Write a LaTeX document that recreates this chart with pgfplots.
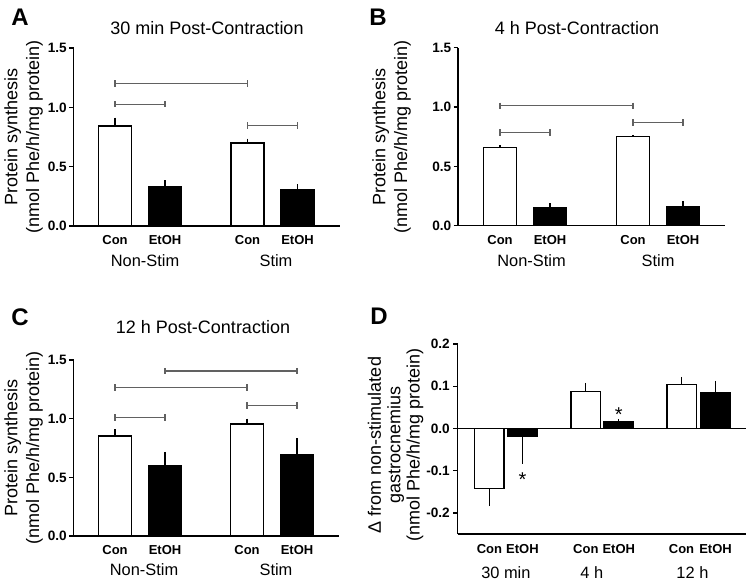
\documentclass[border=0pt]{standalone}
\usepackage{fontspec}
\setmainfont{Liberation Sans}
\usepackage{pgfplots}
\usepackage{pgfplotstable}
\pgfplotsset{compat=1.18}

\definecolor{brk}{gray}{0.38}

\pgfplotstableread{
x y ep em
0    0.843 0.070 0
2.65 0.700 0.036 0
}\AconT
\pgfplotstableread{
x y ep em
1    0.330 0.056 0
3.65 0.310 0.040 0
}\AetT
\pgfplotstableread{
x y ep em
0    0.660 0.017 0
2.66 0.750 0.017 0
}\BconT
\pgfplotstableread{
x y ep em
1    0.150 0.040 0
3.66 0.164 0.045 0
}\BetT
\pgfplotstableread{
x y ep em
0    0.852 0.057 0
2.64 0.955 0.045 0
}\CconT
\pgfplotstableread{
x y ep em
1    0.597 0.119 0
3.64 0.693 0.142 0
}\CetT
\pgfplotstableread{
x y ep em
0    -0.142 0     0.042
2.92  0.087 0.021 0
5.82  0.104 0.018 0
}\DconT
\pgfplotstableread{
x y ep em
1    -0.0195 0     0.0645
3.92  0.0164 0.006 0
6.85  0.085  0.0275 0
}\DetT

\pgfplotsset{
  panel/.style={
    scale only axis, clip=false,
    axis x line*=bottom, axis y line*=left,
    axis line style={line width=0.65pt,-},
    tick align=outside, major tick length=2.2pt,
    every tick/.style={black,line width=0.65pt},
    xtick style={draw=none},
    yticklabel style={font=\bfseries\fontsize{6.8}{8}\selectfont, inner sep=1pt},
    xticklabel style={font=\bfseries\fontsize{6.5}{7}\selectfont, anchor=base, yshift=-7.2pt},
  },
  conbar/.style={ybar, fill=white, draw=black, line width=0.65pt,
    error bars/y dir=both, error bars/y explicit,
    error bars/error mark=none, error bars/error bar style={line width=0.65pt,black}},
  etbar/.style={ybar, fill=black, draw=black, line width=0.65pt,
    error bars/y dir=both, error bars/y explicit,
    error bars/error mark=none, error bars/error bar style={line width=0.65pt,black}},
  bracket/.style={brk, line width=0.6pt, mark=|, mark size=1.6pt,
    mark options={solid, line width=0.6pt, brk}, forget plot},
}
\newcommand{\grp}{\fontsize{8.2}{9}\selectfont}

\begin{document}
\begin{tikzpicture}
\useasboundingbox (0,0) rectangle (373.5pt,291.5pt);

% ---------------- A ----------------
\begin{axis}[panel, at={(36.75pt,178.5pt)}, anchor=south west,
  width=133.25pt, height=89pt,
  xmin=-0.83, xmax=4.5, ymin=0, ymax=1.5,
  ytick={0,0.5,1,1.5}, yticklabels={0.0,0.5,1.0,1.5},
  xtick={0,1,2.65,3.65}, xticklabels={Con,EtOH,Con,EtOH}]
\addplot[conbar, bar width=0.66] table[x=x,y=y,y error plus=ep,y error minus=em]{\AconT};
\addplot[etbar, bar width=0.66] table[x=x,y=y,y error plus=ep,y error minus=em]{\AetT};
\addplot[bracket] coordinates {(0,1.2) (2.65,1.2)};
\addplot[bracket] coordinates {(0,1.026) (1,1.026)};
\addplot[bracket] coordinates {(2.65,0.846) (3.65,0.846)};
\node[font=\grp, anchor=base] at (axis cs:0.6,0) [yshift=-20.2pt] {Non-Stim};
\node[font=\grp, anchor=base] at (axis cs:3.22,0) [yshift=-20.2pt] {Stim};
\end{axis}

% ---------------- B ----------------
\begin{axis}[panel, at={(229pt,178.6pt)}, anchor=south west,
  width=133.5pt, height=89pt,
  xmin=-0.84, xmax=4.5, ymin=0, ymax=1.5,
  ytick={0,0.5,1,1.5}, yticklabels={0.0,0.5,1.0,1.5},
  xtick={0,1,2.66,3.66}, xticklabels={Con,EtOH,Con,EtOH}]
\addplot[conbar, bar width=0.66] table[x=x,y=y,y error plus=ep,y error minus=em]{\BconT};
\addplot[etbar, bar width=0.66] table[x=x,y=y,y error plus=ep,y error minus=em]{\BetT};
\addplot[bracket] coordinates {(0,1.012) (2.66,1.012)};
\addplot[bracket] coordinates {(0,0.787) (1,0.787)};
\addplot[bracket] coordinates {(2.66,0.871) (3.66,0.871)};
\node[font=\grp, anchor=base] at (axis cs:0.63,0) [yshift=-20.2pt] {Non-Stim};
\node[font=\grp, anchor=base] at (axis cs:3.16,0) [yshift=-20.2pt] {Stim};
\end{axis}

% ---------------- C ----------------
\begin{axis}[panel, at={(36.75pt,23.5pt)}, anchor=south west,
  width=132.75pt, height=88pt,
  xmin=-0.83, xmax=4.48, ymin=0, ymax=1.5,
  ytick={0,0.5,1,1.5}, yticklabels={0.0,0.5,1.0,1.5},
  xtick={0,1,2.64,3.64}, xticklabels={Con,EtOH,Con,EtOH}]
\addplot[conbar, bar width=0.66] table[x=x,y=y,y error plus=ep,y error minus=em]{\CconT};
\addplot[etbar, bar width=0.66] table[x=x,y=y,y error plus=ep,y error minus=em]{\CetT};
\addplot[bracket] coordinates {(1,1.406) (3.64,1.406)};
\addplot[bracket] coordinates {(0,1.264) (2.64,1.264)};
\addplot[bracket] coordinates {(0,1.009) (1,1.009)};
\addplot[bracket] coordinates {(2.64,1.111) (3.64,1.111)};
\node[font=\grp, anchor=base] at (axis cs:0.58,0) [yshift=-19.7pt] {Non-Stim};
\node[font=\grp, anchor=base] at (axis cs:3.22,0) [yshift=-19.7pt] {Stim};
\end{axis}

% ---------------- D ----------------
\begin{axis}[panel, at={(228.85pt,24.5pt)}, anchor=south west,
  width=144.1pt, height=95pt,
  xmin=-0.96, xmax=7.77, ymin=-0.25, ymax=0.2,
  ytick={-0.2,-0.1,0,0.1,0.2}, yticklabels={-0.2,-0.1,0.0,0.1,0.2},
  yticklabel style={inner sep=1.6pt},
  xtick={0,1,2.92,3.92,5.82,6.85}, xticklabels={Con,EtOH,Con,EtOH,Con,EtOH},
  xticklabel style={yshift=-0.2pt}]
\addplot[conbar, bar width=0.89] table[x=x,y=y,y error plus=ep,y error minus=em]{\DconT};
\addplot[etbar, bar width=0.89] table[x=x,y=y,y error plus=ep,y error minus=em]{\DetT};
\addplot[black, line width=0.65pt, forget plot] coordinates {(-0.96,0) (7.77,0)};
\node[font=\fontsize{10}{10}\selectfont, anchor=base] at (axis cs:1,-0.11) [yshift=-5.8pt] {*};
\node[font=\fontsize{10}{10}\selectfont, anchor=base] at (axis cs:3.92,0.044) [yshift=-5.8pt] {*};
\node[font=\grp, anchor=base] at (axis cs:0.5,-0.25) [yshift=-22.4pt] {30 min};
\node[font=\grp, anchor=base] at (axis cs:3.1,-0.25) [yshift=-22.4pt] {4 h};
\node[font=\grp, anchor=base] at (axis cs:6.15,-0.25) [yshift=-22.4pt] {12 h};
\end{axis}

% ---------------- labels ----------------
\node[rotate=90, align=center, font=\fontsize{9}{10.8}\selectfont] at (11.8pt,223pt)
  {Protein synthesis\\(nmol Phe/h/mg protein)};
\node[rotate=90, align=center, font=\fontsize{9}{10.8}\selectfont] at (195.8pt,223pt)
  {Protein synthesis\\(nmol Phe/h/mg protein)};
\node[rotate=90, align=center, font=\fontsize{9}{10.8}\selectfont] at (11.8pt,67.5pt)
  {Protein synthesis\\(nmol Phe/h/mg protein)};
\node[rotate=90, align=center, font=\fontsize{9}{9.7}\selectfont] at (197.8pt,69pt)
  {Δ from non-stimulated\\gastrocnemius\\(nmol Phe/h/mg protein)};

\node[font=\fontsize{9}{10}\selectfont] at (103.5pt,277.5pt) {30 min Post-Contraction};
\node[font=\fontsize{9}{10}\selectfont] at (288.5pt,277.5pt) {4 h Post-Contraction};
\node[font=\fontsize{9}{10}\selectfont] at (101.5pt,128pt) {12 h Post-Contraction};

\node[font=\bfseries\fontsize{12}{12}\selectfont] at (10pt,283pt) {A};
\node[font=\bfseries\fontsize{12}{12}\selectfont] at (189pt,283pt) {B};
\node[font=\bfseries\fontsize{12}{12}\selectfont] at (10pt,133pt) {C};
\node[font=\bfseries\fontsize{12}{12}\selectfont] at (189.5pt,133.5pt) {D};
\end{tikzpicture}
\end{document}
